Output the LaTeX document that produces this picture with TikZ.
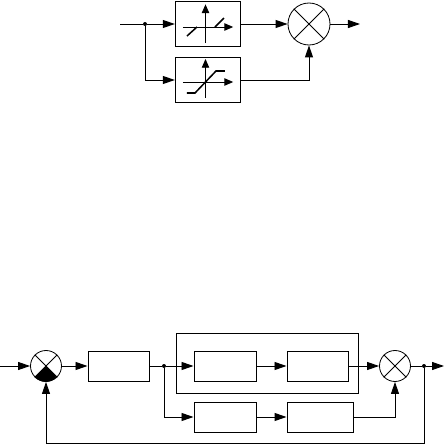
\documentclass[tikz,border=0pt]{standalone}
\usetikzlibrary{arrows.meta,positioning,calc}
\tikzset{
  block/.style={draw=black, line width=0.85pt, minimum height=0.9cm, inner sep=0pt, fill=none},
  sumnode/.style={draw=black, circle, line width=0.7pt, inner sep=0pt},
  dot/.style={fill=black, circle, inner sep=0pt, minimum size=0.12cm},
  sig/.style={-{Triangle[length=0.36cm,width=0.24cm]}, line width=0.85pt},
  wire/.style={line width=0.85pt},
  axis/.style={-{Triangle[length=0.26cm,width=0.22cm]}, line width=0.7pt},
  curve/.style={line width=1.3pt}
}
\begin{document}
\begin{tikzpicture}
  \useasboundingbox (0,0) rectangle (13.35,13.35);

  % Top: two nonlinear blocks
  \node[block, minimum width=1.94cm, minimum height=1.35cm] (dead) at (6.23,12.63) {};
  \node[block, minimum width=1.94cm, minimum height=1.35cm] (sat) at (6.23,10.95) {};
  \node[sumnode, minimum size=1.26cm] (sumtop) at (9.27,12.63) {};
  \node[dot] (jtop) at (4.35,12.63) {};
  \coordinate (intop) at (3.6,12.63);
  \coordinate (outtop) at (10.8,12.63);

  \draw[sumnode] (sumtop.north west) -- (sumtop.south east);
  \draw[sumnode] (sumtop.north east) -- (sumtop.south west);

  \draw[wire] (intop) -- (jtop);
  \draw[sig] (jtop) -- (dead.west);
  \draw[sig] (jtop) |- (sat.west);
  \draw[sig] (dead.east) -- (sumtop.west);
  \draw[sig] (sat.east) -| (sumtop.south);
  \draw[sig] (sumtop.east) -- (outtop);

  % Dead zone curve
  \begin{scope}[shift={(6.165,12.54)}]
    \draw[axis] (-0.68,0) -- (0.83,0);
    \draw[axis] (0,-0.48) -- (0,0.68);
    \draw[curve] (-0.555,-0.27) -- (-0.255,0);
    \draw[curve] (0.285,0) -- (0.555,0.27);
  \end{scope}

  % Saturation curve
  \begin{scope}[shift={(6.165,10.89)}]
    \draw[axis] (-0.68,0) -- (0.83,0);
    \draw[axis] (0,-0.48) -- (0,0.69);
    \draw[curve] (-0.555,-0.33) -- (-0.315,-0.33) -- (0.315,0.33) -- (0.585,0.33);
  \end{scope}

  % Bottom: closed loop
  \node[block, minimum width=5.46cm, minimum height=1.8cm] (outer) at (8.01,2.46) {};
  \node[sumnode, minimum size=0.93cm] (sumin) at (1.38,2.37) {};
  \node[block, minimum width=1.83cm] (ctrl) at (3.555,2.37) {};
  \node[block, minimum width=1.86cm] (upa) at (6.75,2.37) {};
  \node[block, minimum width=1.83cm] (upb) at (9.525,2.37) {};
  \node[block, minimum width=1.86cm] (loa) at (6.75,0.84) {};
  \node[block, minimum width=1.98cm] (lob) at (9.6,0.84) {};
  \node[sumnode, minimum size=0.93cm] (sumout) at (11.85,2.37) {};
  \node[dot] (jmid) at (4.92,2.37) {};
  \node[dot] (jout) at (12.72,2.37) {};
  \coordinate (inbot) at (0,2.37);
  \coordinate (outbot) at (13.32,2.37);
  \coordinate (fb) at (1.38,0.05);

  \fill (sumin.center) -- (sumin.south west) arc[start angle=225, end angle=315, radius=0.465cm] -- cycle;
  \draw[sumnode] (sumin.north west) -- (sumin.south east);
  \draw[sumnode] (sumin.north east) -- (sumin.south west);
  \draw[sumnode] (sumout.north west) -- (sumout.south east);
  \draw[sumnode] (sumout.north east) -- (sumout.south west);

  \draw[sig] (inbot) -- (sumin.west);
  \draw[sig] (sumin.east) -- (ctrl.west);
  \draw[wire] (ctrl.east) -- (jmid);
  \draw[sig] (jmid) -- (upa.west);
  \draw[sig] (jmid) |- (loa.west);
  \draw[sig] (upa.east) -- (upb.west);
  \draw[sig] (loa.east) -- (lob.west);
  \draw[sig] (upb.east) -- (sumout.west);
  \draw[sig] (lob.east) -| (sumout.south);
  \draw[wire] (sumout.east) -- (jout);
  \draw[sig] (jout) -- (outbot);
  \draw[sig] (jout) |- (fb) -- (sumin.south);
\end{tikzpicture}
\end{document}
